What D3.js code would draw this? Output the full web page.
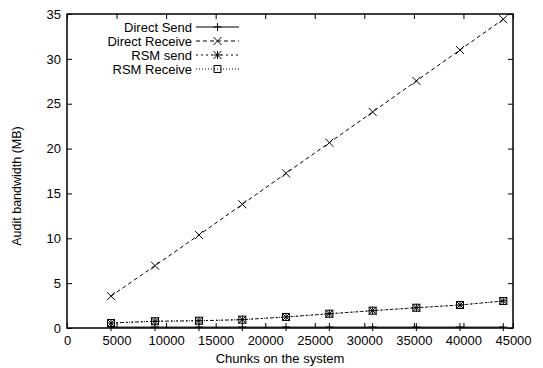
<!DOCTYPE html>
<html>
<head>
<meta charset="utf-8">
<script src="https://cdn.jsdelivr.net/npm/d3@7"></script>
<style>
  body { margin: 0; background: #fff; }
  svg { display: block; font-family: "Liberation Sans", Arial, sans-serif; }
</style>
</head>
<body>
<div id="chart"></div>
<script>
// data
const chunks = [4440, 8880, 13320, 17690, 22100, 26470, 30840, 35250, 39650, 44020];
const directSend = [0.1, 0.1, 0.1, 0.1, 0.1, 0.1, 0.1, 0.1, 0.1, 0.1];
const directReceive = [3.55, 6.95, 10.37, 13.79, 17.24, 20.66, 24.08, 27.54, 30.99, 34.42];
const rsmSend = [0.56, 0.75, 0.81, 0.93, 1.23, 1.59, 1.93, 2.26, 2.56, 3.01];
const rsmReceive = [0.56, 0.75, 0.81, 0.93, 1.23, 1.59, 1.93, 2.26, 2.56, 3.01];
const seriesNames = ["Direct Send", "Direct Receive", "RSM send", "RSM Receive"];
const xTickValues = [0, 5000, 10000, 15000, 20000, 25000, 30000, 35000, 40000, 45000];
const yTickValues = [0, 5, 10, 15, 20, 25, 30, 35];

const width = 543, height = 368;
const margin = { top: 14, right: 30, bottom: 40, left: 67 };
const plotW = width - margin.left - margin.right;
const plotH = height - margin.top - margin.bottom;

const series = [
  { name: seriesNames[0], values: directSend, dash: null, marker: "plus" },
  { name: seriesNames[1], values: directReceive, dash: "4,3", marker: "cross" },
  { name: seriesNames[2], values: rsmSend, dash: "2,3", marker: "star" },
  { name: seriesNames[3], values: rsmReceive, dash: "1,2", marker: "box" }
];

const svg = d3.select("#chart").append("svg")
  .attr("width", width).attr("height", height);

const g = svg.append("g")
  .attr("transform", `translate(${margin.left},${margin.top})`);

const x = d3.scaleLinear().domain([0, 45000]).range([0, plotW]);
const y = d3.scaleLinear().domain([0, 35]).range([plotH, 0]);

// axes, ticks point inward (gnuplot style, mirrored)
const styleAxis = sel => {
  sel.select(".domain").remove();
  sel.selectAll("line").attr("stroke", "#000").attr("stroke-width", 1);
  sel.selectAll("text").attr("fill", "#000").style("font-size", "13px");
};

g.append("g").attr("transform", `translate(0,${plotH})`)
  .call(d3.axisBottom(x).tickValues(xTickValues).tickSize(-5).tickPadding(8).tickFormat(d3.format("d")))
  .call(styleAxis);
g.append("g")
  .call(d3.axisTop(x).tickValues(xTickValues).tickSize(-5).tickFormat(""))
  .call(styleAxis);
g.append("g")
  .call(d3.axisLeft(y).tickValues(yTickValues).tickSize(-5).tickPadding(6))
  .call(styleAxis);
g.append("g").attr("transform", `translate(${plotW},0)`)
  .call(d3.axisRight(y).tickValues(yTickValues).tickSize(-5).tickFormat(""))
  .call(styleAxis);

// markers
function drawMarker(sel, type) {
  const s = 4;
  const p = d3.path();
  if (type === "plus" || type === "star") {
    p.moveTo(-s, 0); p.lineTo(s, 0);
    p.moveTo(0, -s); p.lineTo(0, s);
  }
  if (type === "cross" || type === "star") {
    p.moveTo(-s, -s); p.lineTo(s, s);
    p.moveTo(-s, s); p.lineTo(s, -s);
  }
  if (type === "box") {
    p.rect(-3.5, -3.5, 7, 7);
  }
  sel.append("path").attr("d", p.toString())
    .attr("fill", "none").attr("stroke", "#000").attr("stroke-width", 1);
}

const line = d3.line().x(d => x(d[0])).y(d => y(d[1]));

series.forEach(s => {
  const pts = chunks.map((c, i) => [c, s.values[i]]);
  g.append("path")
    .attr("d", line(pts))
    .attr("fill", "none")
    .attr("stroke", "#000")
    .attr("stroke-width", 1)
    .attr("stroke-dasharray", s.dash);
  g.selectAll(null).data(pts).enter().append("g")
    .attr("transform", d => `translate(${x(d[0])},${y(d[1])})`)
    .each(function () { drawMarker(d3.select(this), s.marker); });
});

// border
g.append("rect")
  .attr("width", plotW).attr("height", plotH)
  .attr("fill", "none").attr("stroke", "#000").attr("stroke-width", 1.5);

// legend
const legend = svg.append("g").attr("transform", "translate(192,27)");
series.forEach((s, i) => {
  const row = legend.append("g").attr("transform", `translate(0,${i * 14})`);
  row.append("text")
    .attr("text-anchor", "end").attr("dy", "0.35em")
    .style("font-size", "13px")
    .text(s.name);
  row.append("line")
    .attr("x1", 4).attr("x2", 47).attr("y1", 0).attr("y2", 0)
    .attr("stroke", "#000").attr("stroke-width", 1)
    .attr("stroke-dasharray", s.dash);
  const m = row.append("g").attr("transform", "translate(25.5,0)");
  drawMarker(m, s.marker);
});

// axis titles
svg.append("text")
  .attr("x", 280).attr("y", 363)
  .attr("text-anchor", "middle")
  .style("font-size", "13px")
  .text("Chunks on the system");

svg.append("text")
  .attr("transform", "translate(21,186) rotate(-90)")
  .attr("text-anchor", "middle")
  .style("font-size", "12.5px")
  .text("Audit bandwidth (MB)");
</script>
</body>
</html>
